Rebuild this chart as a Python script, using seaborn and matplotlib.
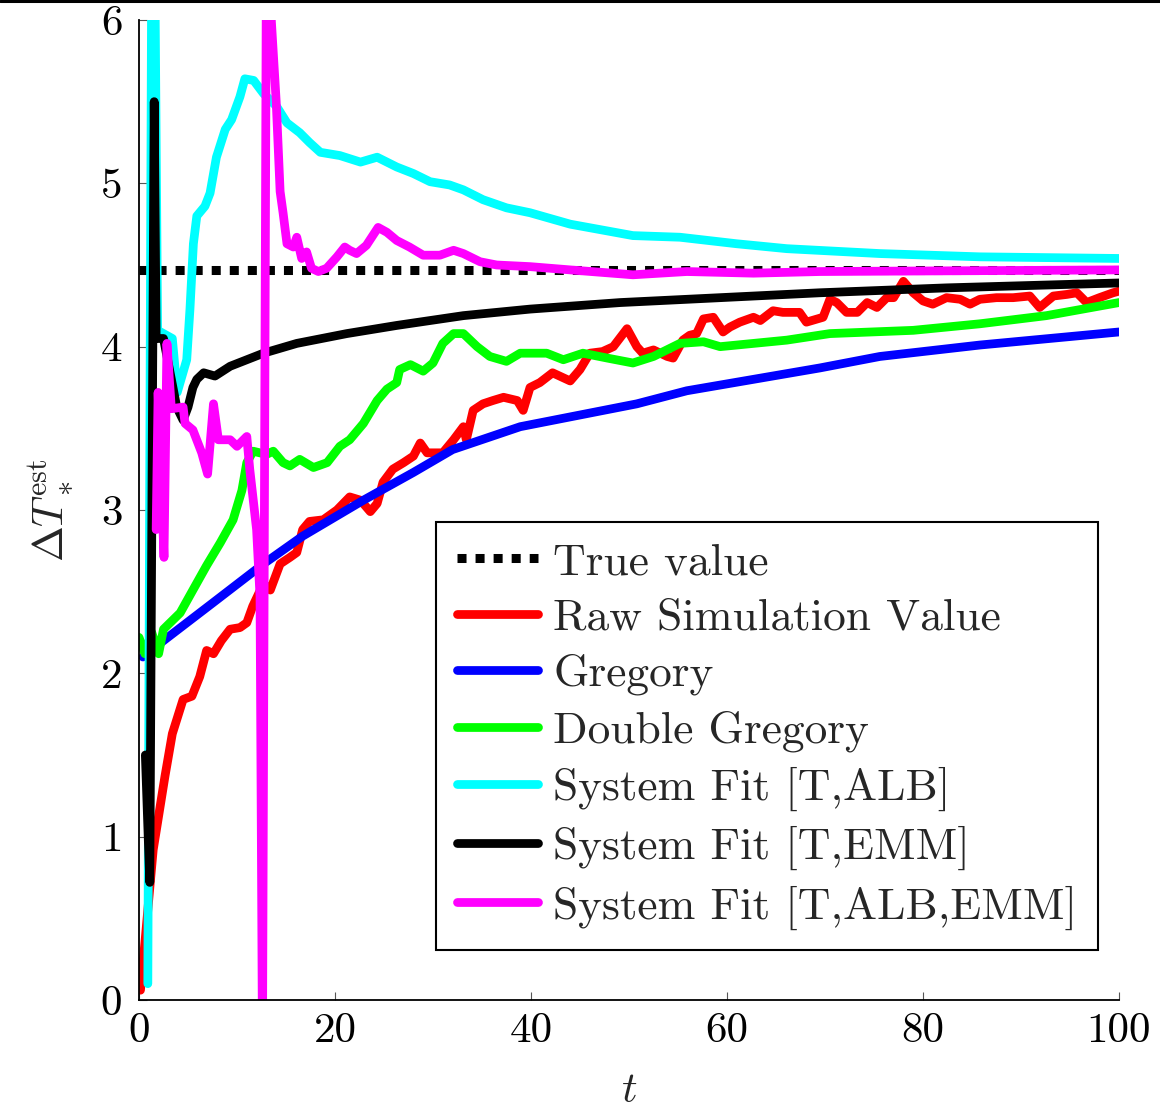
import matplotlib
matplotlib.use("Agg")
import matplotlib.pyplot as plt
import pandas as pd
import seaborn as sns
from matplotlib.lines import Line2D

# ---------------- data ----------------
TRUE_VALUE = 4.47
T_RANGE = [0, 100]

RED = [(0.15, 0.06), (0.6, 0.35), (1.45, 0.92), (2.65, 1.37), (3.4, 1.63), (4.5, 1.84),
       (5.4, 1.86), (6.2, 1.98), (6.9, 2.14), (7.6, 2.12), (8.4, 2.20), (9.3, 2.27),
       (10.3, 2.28), (11.0, 2.31), (11.6, 2.41), (12.7, 2.55), (13.4, 2.51), (14.4, 2.67),
       (15.4, 2.71), (16.1, 2.74), (16.7, 2.88), (17.4, 2.93), (18.8, 2.94), (20.2, 3.00),
       (21.5, 3.08), (22.6, 3.06), (23.6, 2.99), (24.3, 3.04), (24.9, 3.17), (25.9, 3.25),
       (27.0, 3.29), (28.0, 3.33), (28.7, 3.41), (29.4, 3.35), (31.0, 3.35), (32.1, 3.43),
       (33.1, 3.51), (33.4, 3.43), (34.1, 3.61), (35.1, 3.65), (36.1, 3.67), (37.2, 3.69),
       (38.6, 3.67), (39.2, 3.61), (39.9, 3.75), (40.9, 3.78), (42.2, 3.84), (44.0, 3.79),
       (45.0, 3.86), (46.0, 3.96), (47.3, 3.97), (48.4, 4.00), (49.8, 4.11), (50.8, 4.00),
       (51.4, 3.96), (52.5, 3.98), (53.9, 3.94), (54.5, 3.93), (55.5, 4.04), (56.2, 4.07),
       (56.9, 4.08), (57.6, 4.17), (58.6, 4.18), (59.6, 4.09), (60.3, 4.12), (61.3, 4.15),
       (62.7, 4.18), (63.4, 4.16), (64.7, 4.22), (65.7, 4.21), (67.4, 4.21), (68.1, 4.15),
       (69.8, 4.18), (70.5, 4.29), (71.2, 4.27), (72.2, 4.21), (73.3, 4.21), (74.3, 4.27),
       (75.3, 4.24), (76.3, 4.30), (77.0, 4.30), (78.0, 4.40), (79.0, 4.33), (80.0, 4.28),
       (81.0, 4.26), (82.4, 4.30), (83.8, 4.29), (84.8, 4.26), (85.8, 4.29), (87.5, 4.30),
       (89.2, 4.30), (90.9, 4.31), (91.9, 4.24), (93.3, 4.31), (94.7, 4.32), (95.7, 4.33),
       (96.7, 4.27), (98.0, 4.30), (99.4, 4.33), (100.0, 4.34)]

BLUE = [(0.4, 2.10), (2.5, 2.20), (7.5, 2.43), (12.7, 2.67), (16.7, 2.84), (22.9, 3.06),
        (28.0, 3.23), (32.0, 3.37), (38.9, 3.51), (45.7, 3.59), (50.8, 3.65), (55.9, 3.73),
        (62.7, 3.80), (69.5, 3.87), (75.6, 3.94), (85.8, 4.01), (100.0, 4.09)]

GREEN = [(0.0, 2.22), (0.6, 2.12), (1.3, 2.25), (2.0, 2.12), (2.5, 2.27), (4.2, 2.37),
         (5.5, 2.51), (6.9, 2.66), (8.3, 2.80), (9.6, 2.94), (10.5, 3.12), (11.0, 3.29),
         (11.65, 3.36), (13.0, 3.34), (13.7, 3.36), (14.7, 3.29), (15.4, 3.27), (16.4, 3.31),
         (17.8, 3.26), (19.2, 3.29), (20.5, 3.39), (21.5, 3.43), (22.9, 3.53), (24.3, 3.67),
         (25.3, 3.74), (26.3, 3.78), (26.6, 3.86), (27.7, 3.89), (29.0, 3.85), (30.0, 3.90),
         (31.0, 4.02), (32.1, 4.08), (33.1, 4.08), (34.5, 4.00), (35.8, 3.94), (37.5, 3.91),
         (38.9, 3.96), (41.6, 3.96), (43.3, 3.92), (45.3, 3.96), (47.8, 3.93), (50.4, 3.90),
         (52.5, 3.94), (55.2, 4.02), (57.6, 4.03), (59.3, 4.00), (62.7, 4.02), (66.1, 4.04),
         (70.5, 4.08), (79.0, 4.10), (85.8, 4.14), (92.6, 4.19), (100.0, 4.27)]

CYAN = [(0.9, 0.1), (1.4, 8.0), (1.9, 4.1), (3.4, 4.05), (3.9, 3.72), (4.87, 3.92),
        (5.2, 4.23), (5.55, 4.63), (5.9, 4.80), (6.73, 4.86), (7.25, 4.94), (7.9, 5.16),
        (8.8, 5.33), (9.45, 5.39), (10.3, 5.53), (10.8, 5.64), (11.7, 5.63), (12.7, 5.55),
        (14.05, 5.47), (15.1, 5.37), (16.4, 5.31), (17.4, 5.25), (18.5, 5.19), (20.5, 5.17),
        (22.6, 5.13), (24.3, 5.16), (26.3, 5.10), (28.0, 5.06), (29.7, 5.01), (31.7, 4.99),
        (33.1, 4.96), (35.1, 4.90), (37.5, 4.85), (39.9, 4.82), (44.0, 4.75), (50.4, 4.68),
        (55.2, 4.67), (61.0, 4.63), (66.1, 4.60), (75.6, 4.57), (85.8, 4.55), (100.0, 4.54)]

BLACK = [(0.65, 1.5), (1.1, 0.72), (1.55, 5.5), (1.75, 4.05), (2.5, 4.05), (3.85, 3.63),
         (4.5, 3.55), (5.0, 3.63), (5.5, 3.75), (5.9, 3.80), (6.6, 3.84), (7.75, 3.82),
         (9.3, 3.88), (12.7, 3.96), (16.1, 4.02), (21.2, 4.08), (26.3, 4.13), (33.1, 4.19),
         (39.9, 4.23), (49.1, 4.27), (59.3, 4.30), (69.5, 4.33), (82.4, 4.36), (100.0, 4.39)]

MAGENTA = [(1.75, 2.88), (1.95, 3.72), (2.55, 2.71), (2.85, 4.02), (3.3, 3.62), (4.5, 3.63),
           (4.7, 3.53), (5.5, 3.49), (6.4, 3.35), (7.0, 3.22), (7.6, 3.65), (8.1, 3.43),
           (9.3, 3.43), (10.0, 3.39), (11.0, 3.45), (11.3, 3.25), (12.0, 2.88), (12.35, 2.47),
           (12.6, -0.3), (13.0, 6.4), (13.5, 6.0), (14.0, 5.5), (14.4, 4.95), (14.7, 4.82),
           (15.1, 4.63), (15.75, 4.61), (16.1, 4.67), (16.6, 4.54), (17.1, 4.58), (17.6, 4.48),
           (18.3, 4.46), (19.15, 4.48), (20.2, 4.55), (21.0, 4.61), (21.5, 4.59), (22.2, 4.57),
           (23.2, 4.62), (24.4, 4.73), (25.3, 4.70), (26.3, 4.65), (27.6, 4.61), (29.0, 4.56),
           (30.7, 4.56), (32.1, 4.59), (33.1, 4.57), (34.8, 4.52), (36.5, 4.50), (39.9, 4.49),
           (44.0, 4.47), (50.4, 4.44), (55.9, 4.46), (62.7, 4.45), (69.5, 4.46), (100.0, 4.47)]

SERIES = [
    ("Raw Simulation Value", RED, "#ff0000"),
    ("Gregory", BLUE, "#0000ff"),
    ("Double Gregory", GREEN, "#00ff00"),
    ("System Fit [T,ALB]", CYAN, "#00ffff"),
    ("System Fit [T,EMM]", BLACK, "#000000"),
    ("System Fit [T,ALB,EMM]", MAGENTA, "#ff00ff"),
]

X_TICKS = [0, 20, 40, 60, 80, 100]
Y_TICKS = [0, 1, 2, 3, 4, 5, 6]

# ---------------- style ----------------
sns.set_style("ticks")
plt.rcParams["font.family"] = ["cmr10", "DejaVu Serif"]
plt.rcParams["mathtext.fontset"] = "cm"
plt.rcParams["axes.formatter.use_mathtext"] = True
plt.rcParams["axes.unicode_minus"] = False

FS = 31
LEG_FS = 32.7
LW = 6.3

fig = plt.figure(figsize=(11.6, 11.13), dpi=100)
ax = fig.add_axes([139 / 1160, 1 - 1000 / 1113, 980 / 1160, 980 / 1113])

sns.lineplot(x=T_RANGE, y=[TRUE_VALUE] * len(T_RANGE), ax=ax, color="black",
             lw=6.5, linestyle=(0, (1, 1)), dash_capstyle="butt", label="True value")

for name, pts, col in SERIES:
    df = pd.DataFrame(pts, columns=["t", "v"])
    sns.lineplot(data=df, x="t", y="v", ax=ax, sort=False, estimator=None,
                 color=col, lw=LW, label=name)

ax.set_xlim(0, 100)
ax.set_ylim(0, 6)
ax.set_xticks(X_TICKS)
ax.set_xticklabels([str(v) for v in X_TICKS])
ax.set_yticks(Y_TICKS)
ax.set_yticklabels([str(v) for v in Y_TICKS])

for s in ["top", "right"]:
    ax.spines[s].set_visible(False)
for s in ["left", "bottom"]:
    ax.spines[s].set_linewidth(1.3)
    ax.spines[s].set_color("black")

ax.tick_params(direction="in", length=6, width=0.8, color="#555555",
               labelsize=FS, labelcolor="black")
ax.tick_params(axis="x", pad=9)
ax.tick_params(axis="y", pad=12)

ax.set_xlabel(r"$t$", fontsize=FS, labelpad=16)
ax.set_ylabel(r"$\Delta T_*^{\mathrm{est}}$", fontsize=FS, labelpad=18)

leg = ax.legend(loc="lower right", bbox_to_anchor=(0.9786, 0.051), fontsize=LEG_FS,
                frameon=True, fancybox=False, edgecolor="black", framealpha=1,
                handlelength=1.78, handletextpad=0.35, borderpad=0.45,
                labelspacing=0.33, borderaxespad=0)
leg.get_frame().set_linewidth(1.5)

fig.add_artist(Line2D([0, 1], [0.9993, 0.9993], transform=fig.transFigure,
                      color="black", lw=2.2))

fig.savefig("out.png", dpi=100)
